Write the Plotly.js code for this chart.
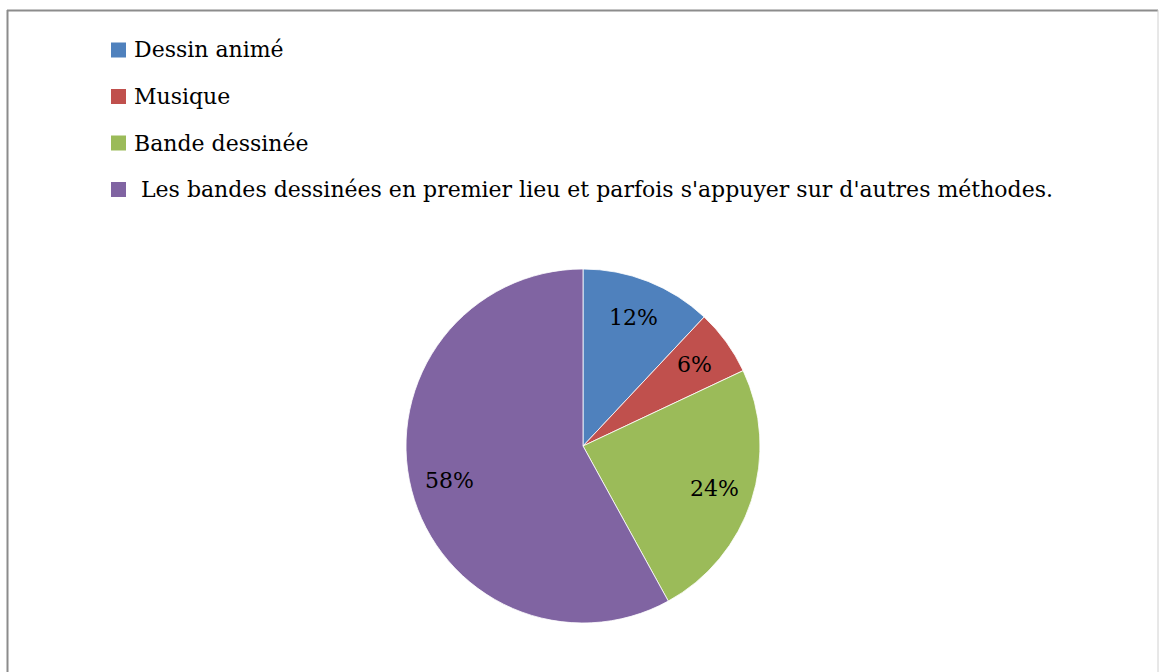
<!DOCTYPE html>
<html>
<head>
<meta charset="utf-8">
<script src="https://cdn.plot.ly/plotly-3.0.1.min.js"></script>
<style>html,body{margin:0;padding:0;background:#fff;}#chart{width:1159px;height:672px;}</style>
</head>
<body>
<div id="chart"></div>
<script>
var categories = ["Dessin animé", "Musique", "Bande dessinée", "\u00a0Les bandes dessinées en premier lieu et parfois s'appuyer sur d'autres méthodes."];
var values = [12, 6, 24, 58];
var colors = ["#4F81BD", "#C0504D", "#9BBB59", "#8064A2"];

var W = 1159, H = 672;
var FONT = "DejaVu Serif, Liberation Serif, serif";
function px(x) { return x / W; }
function py(y) { return 1 - y / H; }

var cx = 583, cy = 446, R = 177;

var trace = {
  type: "pie",
  labels: categories,
  values: values,
  marker: { colors: colors, line: { color: "#ffffff", width: 0.8 } },
  sort: false,
  direction: "clockwise",
  rotation: 0,
  textinfo: "none",
  hoverinfo: "label+percent",
  showlegend: false,
  domain: { x: [px(cx - R), px(cx + R)], y: [py(cy + R), py(cy - R)] }
};

var shapes = [
  { type: "line", xref: "paper", yref: "paper", x0: px(7.5), x1: px(7.5), y0: py(10), y1: -0.05, line: { color: "#8c8c8c", width: 2 } },
  { type: "line", xref: "paper", yref: "paper", x0: px(7), x1: px(1158), y0: py(10.5), y1: py(10.5), line: { color: "#8c8c8c", width: 2 } },
  { type: "line", xref: "paper", yref: "paper", x0: px(1158), x1: px(1158), y0: py(10), y1: -0.05, line: { color: "#d0d0d0", width: 1 } }
];
var annotations = [];
for (var i = 0; i < categories.length; i++) {
  var yc = 50 + i * 46.5;
  shapes.push({ type: "rect", xref: "paper", yref: "paper", x0: px(111), x1: px(126), y0: py(yc + 7.5), y1: py(yc - 7.5), fillcolor: colors[i], line: { width: 0 } });
  annotations.push({ xref: "paper", yref: "paper", x: px(132), y: py(yc), xanchor: "left", yanchor: "middle", text: categories[i], showarrow: false, font: { family: FONT, size: 22, color: "#000000" } });
}

// percentage labels placed at the middle angle of each slice
var total = values.reduce(function (a, b) { return a + b; }, 0);
var cum = 0;
for (var j = 0; j < values.length; j++) {
  var mid = (cum + values[j] / 2) / total * 2 * Math.PI;
  cum += values[j];
  var r = 0.78 * R;
  annotations.push({
    xref: "paper", yref: "paper",
    x: px(cx + r * Math.sin(mid)), y: py(cy - r * Math.cos(mid)),
    xanchor: "center", yanchor: "middle", showarrow: false,
    text: Math.round(values[j] / total * 100) + "%",
    font: { family: FONT, size: 22, color: "#000000" }
  });
}

var layout = {
  width: W, height: H,
  margin: { l: 0, r: 0, t: 0, b: 0 },
  paper_bgcolor: "#ffffff",
  showlegend: false,
  shapes: shapes,
  annotations: annotations
};

Plotly.newPlot("chart", [trace], layout, { displayModeBar: false, staticPlot: true });
</script>
</body>
</html>
